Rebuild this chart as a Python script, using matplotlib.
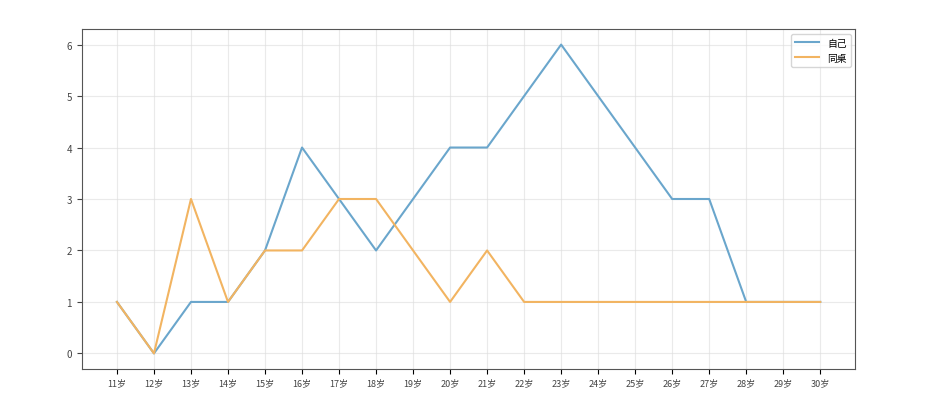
import matplotlib
matplotlib.use("Agg")
import matplotlib.pyplot as plt

plt.rcParams['font.family'] = ['Noto Sans CJK SC', 'DejaVu Sans']

ages = [f"{i}岁" for i in range(11, 31)]
ziji = [1, 0, 1, 1, 2, 4, 3, 2, 3, 4, 4, 5, 6, 5, 4, 3, 3, 1, 1, 1]
tongzhuo = [1, 0, 3, 1, 2, 2, 3, 3, 2, 1, 2, 1, 1, 1, 1, 1, 1, 1, 1, 1]

fig = plt.figure(figsize=(9.4, 4.02), dpi=100)
ax = fig.add_axes([0.087, 0.08, 0.823, 0.845])

x = range(len(ages))
ax.plot(x, ziji, label="自己", color="#6aa6cc", linewidth=1.5)
ax.plot(x, tongzhuo, label="同桌", color="#f2b461", linewidth=1.5)

ax.set_xticks(list(x))
ax.set_xticklabels(ages, fontsize=6.5, color="#444444")
ax.set_yticks(range(0, 7))
ax.tick_params(axis='y', labelsize=7, colors="#444444")
ax.grid(True, color="#dddddd", alpha=0.6, linewidth=0.8)
for s in ax.spines.values():
    s.set_color("#555555")

ax.legend(loc="upper right", fontsize=7, frameon=True, handlelength=2.5)

fig.savefig("out.png", dpi=100)
